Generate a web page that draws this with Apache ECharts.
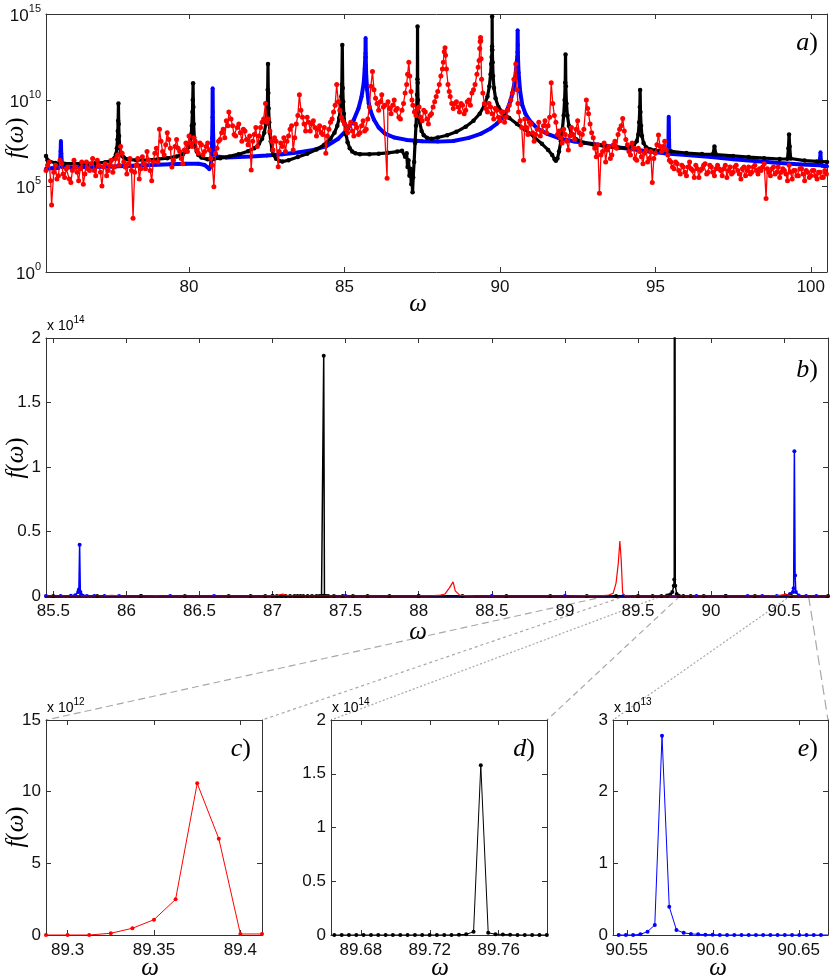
<!DOCTYPE html>
<html>
<head>
<meta charset="utf-8">
<script src="https://cdn.jsdelivr.net/npm/echarts@6/dist/echarts.min.js"></script>
<style>
html, body { margin: 0; padding: 0; background: #fff; }
#chart { width: 830px; height: 979px; }
</style>
</head>
<body>
<div id="chart"></div>
<script>
// [omega, log10 f(omega)] (panel b reuses them on a linear scale)
const blackA = [
  [75.40, 6.75], [75.45, 6.5], [75.5, 6.4], [75.7, 6.33], [76.0, 6.3], [76.5, 6.3], [77.0, 6.33], [77.3, 6.38],
  [77.5, 6.48], [77.6, 6.62], [77.65, 6.85], [77.68, 7.2], [77.70, 7.7], [77.71, 8.2], [77.72, 8.8], [77.73, 9.8],
  [77.74, 8.6], [77.75, 7.9], [77.77, 7.3], [77.8, 6.95], [77.85, 6.75], [77.9, 6.65], [78.0, 6.55], [78.3, 6.5],
  [78.7, 6.52], [79.0, 6.56], [79.3, 6.62], [79.6, 6.72], [79.8, 6.85], [79.9, 7.0], [79.98, 7.25], [80.03, 7.6],
  [80.07, 8.0], [80.09, 8.5], [80.11, 9.3], [80.12, 10.0], [80.13, 10.97], [80.14, 9.6], [80.15, 8.6], [80.17, 7.8],
  [80.2, 7.3], [80.25, 7.0], [80.3, 6.8], [80.4, 6.65], [80.6, 6.55], [80.8, 6.57], [81.0, 6.62], [81.3, 6.72],
  [81.6, 6.85], [81.9, 7.02], [82.1, 7.2], [82.25, 7.45], [82.35, 7.75], [82.42, 8.1], [82.47, 8.6], [82.50, 9.1],
  [82.52, 9.8], [82.53, 10.6], [82.54, 12.09], [82.55, 10.4], [82.56, 9.5], [82.58, 8.7], [82.6, 8.1], [82.63, 7.6],
  [82.67, 7.1], [82.72, 6.8], [82.8, 6.58], [82.9, 6.45], [83.0, 6.42], [83.2, 6.5], [83.5, 6.68], [83.8, 6.88],
  [84.1, 7.12], [84.35, 7.4], [84.55, 7.75], [84.68, 8.1], [84.77, 8.5], [84.83, 8.95], [84.87, 9.5], [84.9, 10.2],
  [84.915, 10.9], [84.93, 13.2], [84.945, 10.7], [84.96, 9.9], [84.98, 9.2], [85.01, 8.6], [85.05, 8.0], [85.1, 7.55],
  [85.17, 7.2], [85.25, 7.0], [85.35, 6.9], [85.5, 6.85], [85.8, 6.85], [86.1, 6.88], [86.4, 6.93], [86.7, 7.0],
  [86.85, 7.05], [86.95, 6.7], [87.0, 6.9], [87.03, 6.1], [87.06, 6.5], [87.09, 5.6], [87.12, 6.0], [87.15, 5.1],
  [87.17, 5.6], [87.19, 4.63], [87.21, 5.5], [87.24, 6.4], [87.27, 7.5], [87.3, 8.5], [87.32, 9.4], [87.335, 10.3],
  [87.345, 11.2], [87.35, 14.27], [87.355, 11.0], [87.365, 10.0], [87.38, 9.3], [87.42, 8.7], [87.48, 8.2], [87.55, 7.95],
  [87.65, 7.8], [87.8, 7.75], [88.0, 7.82], [88.3, 7.95], [88.6, 8.15], [88.9, 8.45], [89.15, 8.8], [89.35, 9.2],
  [89.5, 9.7], [89.6, 10.2], [89.66, 10.8], [89.7, 11.5], [89.72, 12.1], [89.735, 12.5], [89.745, 12.9], [89.748, 13.11],
  [89.75, 14.85], [89.755, 12.9], [89.765, 12.2], [89.78, 11.4], [89.81, 10.7], [89.86, 10.1], [89.95, 9.6], [90.1, 9.25],
  [90.3, 8.95], [90.55, 8.6], [90.8, 8.28], [91.1, 7.85], [91.35, 7.45], [91.55, 7.1], [91.68, 6.8], [91.76, 6.55],
  [91.8, 6.47], [91.85, 6.6], [91.9, 7.0], [91.96, 7.6], [92.01, 8.3], [92.05, 9.1], [92.08, 10.0], [92.1, 11.0],
  [92.11, 12.65], [92.12, 10.8], [92.14, 9.8], [92.17, 9.1], [92.22, 8.5], [92.3, 8.05], [92.45, 7.72], [92.7, 7.52],
  [93.0, 7.42], [93.4, 7.3], [93.8, 7.22], [94.1, 7.22], [94.3, 7.35], [94.4, 7.6], [94.45, 8.0], [94.48, 8.7],
  [94.5, 9.6], [94.51, 10.58], [94.52, 9.3], [94.54, 8.5], [94.57, 7.9], [94.62, 7.5], [94.7, 7.25], [94.85, 7.12],
  [95.0, 7.08], [95.5, 7.02], [96.0, 6.92], [96.5, 6.86], [96.85, 6.84], [96.9, 7.29], [96.95, 6.83], [97.5, 6.75],
  [98.0, 6.68], [98.5, 6.62], [99.0, 6.57], [99.25, 6.58], [99.28, 7.2], [99.3, 8.0], [99.32, 7.3], [99.35, 6.6],
  [99.8, 6.48], [100.2, 6.43], [100.52, 6.4]
];

const blueA = [
  [75.40, 6.0], [75.6, 6.03], [75.8, 6.05], [75.85, 6.3], [75.87, 7.0], [75.88, 7.62], [75.89, 6.9], [75.92, 6.1],
  [76.2, 6.07], [76.8, 6.1], [77.5, 6.13], [78.2, 6.18], [78.8, 6.22], [79.4, 6.27], [79.9, 6.3], [80.3, 6.3],
  [80.5, 6.22], [80.6, 6.08], [80.65, 5.98], [80.7, 6.1], [80.73, 6.8], [80.745, 7.8], [80.755, 9.0], [80.76, 10.68],
  [80.765, 9.3], [80.775, 8.0], [80.79, 7.3], [80.82, 6.9], [80.9, 6.72], [81.2, 6.66], [81.6, 6.68], [82.0, 6.72],
  [82.5, 6.78], [83.0, 6.85], [83.5, 6.95], [84.0, 7.1], [84.4, 7.3], [84.8, 7.75], [85.1, 8.3], [85.3, 8.85],
  [85.45, 9.5], [85.55, 10.2], [85.62, 11.0], [85.65, 11.8], [85.67, 12.5], [85.675, 12.7], [85.68, 13.6], [85.685, 12.48],
  [85.69, 12.0], [85.7, 11.4], [85.73, 10.6], [85.78, 9.8], [85.85, 9.3], [85.95, 8.85], [86.1, 8.4], [86.3, 8.05],
  [86.6, 7.82], [87.0, 7.68], [87.5, 7.6], [88.0, 7.58], [88.5, 7.62], [89.0, 7.8], [89.4, 8.05], [89.7, 8.35],
  [89.9, 8.62], [90.1, 9.0], [90.25, 9.5], [90.35, 10.0], [90.45, 10.8], [90.51, 11.6], [90.54, 12.2], [90.56, 12.5],
  [90.565, 12.78], [90.57, 14.05], [90.575, 13.2], [90.58, 12.5], [90.6, 11.6], [90.65, 10.5], [90.72, 9.7], [90.82, 9.2],
  [90.95, 8.82], [91.2, 8.35], [91.5, 8.05], [91.9, 7.78], [92.4, 7.58], [93.0, 7.44], [93.6, 7.3], [94.2, 7.15],
  [94.8, 7.0], [95.3, 6.9], [95.41, 6.9], [95.42, 7.6], [95.43, 9.03], [95.44, 7.7], [95.45, 6.88], [96.0, 6.8],
  [96.8, 6.68], [97.5, 6.56], [98.3, 6.44], [99.0, 6.34], [99.7, 6.25], [100.28, 6.2], [100.3, 6.6], [100.31, 6.96],
  [100.32, 6.5], [100.35, 6.18], [100.52, 6.15]
];

const redA = [
  [75.4, 5.9], [75.45, 6.2], [75.5, 6.4], [75.55, 5.3], [75.58, 3.9], [75.65, 5.8], [75.7, 6.2], [75.75, 5.4],
  [75.8, 5.6], [75.85, 6.5], [75.9, 6.3], [75.95, 5.7], [76.0, 5.5], [76.05, 6.0], [76.1, 6.1], [76.15, 5.4],
  [76.2, 5.2], [76.25, 5.9], [76.3, 6.5], [76.35, 6.1], [76.4, 5.8], [76.45, 5.3], [76.5, 6.0], [76.55, 6.4],
  [76.6, 5.1], [76.65, 5.7], [76.7, 6.4], [76.75, 6.0], [76.8, 5.9], [76.85, 6.3], [76.9, 6.6], [76.95, 5.9],
  [77.0, 5.6], [77.05, 6.5], [77.1, 6.2], [77.15, 5.8], [77.2, 5.0], [77.25, 6.1], [77.3, 6.3], [77.35, 5.6],
  [77.4, 5.9], [77.45, 6.2], [77.5, 6.5], [77.55, 5.8], [77.6, 6.1], [77.65, 6.6], [77.7, 6.8], [77.75, 6.2],
  [77.8, 7.3], [77.85, 6.9], [77.9, 6.4], [77.95, 6.1], [78.0, 5.7], [78.05, 6.3], [78.1, 6.6], [78.15, 5.9],
  [78.2, 3.12], [78.25, 5.8], [78.3, 6.2], [78.35, 6.6], [78.4, 5.4], [78.45, 6.0], [78.5, 6.7], [78.55, 6.3],
  [78.6, 6.0], [78.65, 7.0], [78.7, 6.5], [78.75, 5.9], [78.8, 5.3], [78.85, 6.4], [78.9, 6.9], [78.95, 7.2],
  [79.0, 6.4], [79.05, 8.3], [79.1, 7.6], [79.15, 7.0], [79.2, 6.8], [79.25, 7.4], [79.3, 8.1], [79.35, 7.7],
  [79.4, 7.2], [79.45, 6.1], [79.5, 6.5], [79.55, 7.3], [79.6, 7.7], [79.65, 7.2], [79.7, 7.0], [79.75, 6.6],
  [79.8, 6.3], [79.85, 7.1], [79.9, 7.5], [79.95, 7.0], [80.0, 7.9], [80.05, 7.5], [80.1, 7.3], [80.15, 7.8],
  [80.2, 7.6], [80.25, 7.1], [80.3, 6.9], [80.35, 7.5], [80.4, 7.4], [80.45, 6.8], [80.5, 7.0], [80.55, 7.3],
  [80.6, 7.5], [80.65, 7.1], [80.7, 6.6], [80.75, 6.2], [80.8, 4.96], [80.85, 6.9], [80.9, 7.2], [80.95, 7.6],
  [81.0, 7.7], [81.05, 8.1], [81.1, 8.3], [81.15, 7.8], [81.2, 8.8], [81.25, 8.5], [81.28, 9.3], [81.35, 8.9],
  [81.4, 8.5], [81.45, 8.0], [81.5, 7.9], [81.55, 8.4], [81.6, 8.6], [81.65, 8.1], [81.7, 7.6], [81.75, 8.3],
  [81.8, 8.2], [81.85, 7.7], [81.9, 7.4], [81.95, 7.9], [82.0, 5.93], [82.05, 7.6], [82.1, 8.0], [82.15, 8.4],
  [82.2, 7.3], [82.25, 7.9], [82.3, 8.4], [82.35, 8.7], [82.4, 8.9], [82.46, 9.8], [82.5, 8.7], [82.55, 8.9],
  [82.6, 8.2], [82.65, 7.6], [82.7, 7.1], [82.75, 7.8], [82.8, 7.6], [82.87, 6.12], [82.9, 7.0], [82.95, 7.5],
  [83.0, 7.3], [83.05, 7.8], [83.1, 7.0], [83.15, 7.6], [83.2, 7.9], [83.25, 8.3], [83.3, 8.5], [83.35, 7.1],
  [83.4, 7.8], [83.45, 8.6], [83.5, 9.1], [83.55, 10.3], [83.6, 9.4], [83.65, 9.0], [83.7, 8.6], [83.75, 8.2],
  [83.8, 9.0], [83.85, 8.7], [83.9, 8.2], [83.95, 8.6], [84.0, 8.8], [84.05, 8.4], [84.1, 7.9], [84.15, 8.3],
  [84.2, 8.5], [84.25, 8.1], [84.3, 8.0], [84.35, 8.4], [84.4, 6.9], [84.45, 7.9], [84.5, 8.3], [84.55, 8.7],
  [84.6, 8.9], [84.65, 9.3], [84.7, 9.7], [84.75, 10.9], [84.8, 9.9], [84.85, 9.4], [84.9, 9.0], [84.95, 8.8],
  [85.0, 8.6], [85.05, 8.3], [85.1, 8.1], [85.15, 8.5], [85.2, 8.7], [85.25, 8.2], [85.3, 7.9], [85.35, 8.6],
  [85.4, 8.4], [85.45, 8.0], [85.5, 8.1], [85.55, 8.5], [85.6, 8.8], [85.65, 8.2], [85.7, 8.3], [85.75, 8.9],
  [85.8, 9.6], [85.85, 10.8], [85.9, 11.65], [85.95, 10.6], [86.0, 10.1], [86.05, 9.8], [86.1, 9.4], [86.15, 9.9],
  [86.2, 10.3], [86.25, 9.6], [86.3, 9.7], [86.37, 5.45], [86.4, 9.9], [86.45, 9.5], [86.5, 9.2], [86.55, 9.7],
  [86.6, 10.0], [86.65, 9.4], [86.7, 9.5], [86.75, 9.0], [86.8, 8.9], [86.85, 9.4], [86.9, 9.8], [86.95, 10.4],
  [87.0, 10.9], [87.03, 11.5], [87.07, 12.2], [87.1, 11.4], [87.14, 10.5], [87.17, 10.0], [87.2, 9.7], [87.25, 9.3],
  [87.3, 9.1], [87.35, 9.5], [87.4, 9.6], [87.45, 9.0], [87.5, 8.8], [87.55, 9.4], [87.6, 9.3], [87.65, 8.9],
  [87.7, 8.6], [87.75, 9.1], [87.8, 9.2], [87.85, 9.6], [87.9, 9.9], [87.95, 10.2], [88.0, 10.5], [88.05, 10.9],
  [88.1, 11.4], [88.15, 11.8], [88.18, 12.2], [88.21, 12.8], [88.235, 13.04], [88.25, 12.6], [88.28, 11.8], [88.33, 10.9],
  [88.37, 10.5], [88.4, 10.2], [88.45, 9.8], [88.5, 9.5], [88.55, 9.8], [88.6, 9.9], [88.65, 9.6], [88.7, 9.3],
  [88.75, 9.8], [88.8, 9.7], [88.85, 9.2], [88.9, 9.4], [88.95, 9.9], [89.0, 10.0], [89.05, 9.7], [89.1, 10.4],
  [89.15, 10.6], [89.2, 10.9], [89.26, 11.5], [89.3, 11.9], [89.33, 12.3], [89.35, 13.0], [89.365, 13.4], [89.376, 13.63],
  [89.385, 13.45], [89.395, 12.4], [89.41, 11.2], [89.45, 10.4], [89.5, 9.8], [89.55, 9.5], [89.6, 9.3], [89.65, 9.8],
  [89.7, 9.6], [89.75, 9.2], [89.8, 8.9], [89.85, 9.5], [89.9, 9.4], [89.95, 9.0], [90.0, 8.8], [90.05, 9.3],
  [90.1, 9.3], [90.15, 8.7], [90.2, 9.0], [90.25, 9.4], [90.3, 9.7], [90.35, 10.0], [90.4, 10.4], [90.45, 11.2],
  [90.51, 12.1], [90.55, 10.6], [90.58, 9.8], [90.6, 9.3], [90.65, 8.8], [90.7, 8.4], [90.76, 6.5], [90.8, 8.9],
  [90.85, 8.4], [90.9, 8.0], [90.95, 8.7], [91.0, 8.6], [91.05, 8.1], [91.1, 7.6], [91.15, 8.0], [91.2, 8.3],
  [91.25, 8.7], [91.3, 7.9], [91.35, 8.2], [91.4, 8.5], [91.45, 8.8], [91.5, 8.1], [91.55, 8.5], [91.6, 9.0],
  [91.65, 11.0], [91.7, 9.8], [91.75, 9.1], [91.8, 8.7], [91.85, 8.0], [91.9, 8.2], [91.95, 7.8], [92.0, 7.5],
  [92.05, 8.3], [92.1, 8.0], [92.15, 7.6], [92.2, 7.1], [92.25, 7.9], [92.3, 8.4], [92.35, 8.0], [92.4, 7.7],
  [92.45, 8.3], [92.5, 8.8], [92.55, 8.1], [92.6, 7.4], [92.65, 8.0], [92.7, 8.3], [92.78, 10.0], [92.82, 9.5],
  [92.85, 9.2], [92.9, 8.6], [92.95, 8.1], [93.0, 7.8], [93.05, 7.2], [93.1, 6.7], [93.15, 7.4], [93.2, 4.58],
  [93.25, 6.8], [93.3, 7.0], [93.35, 7.5], [93.4, 6.4], [93.45, 7.1], [93.5, 7.3], [93.55, 6.6], [93.6, 6.8],
  [93.65, 7.4], [93.7, 7.6], [93.75, 7.2], [93.8, 8.0], [93.85, 8.3], [93.9, 8.5], [93.95, 8.93], [94.0, 8.2],
  [94.05, 7.7], [94.1, 7.4], [94.15, 7.0], [94.2, 6.8], [94.25, 7.5], [94.3, 7.2], [94.35, 6.6], [94.4, 6.5],
  [94.45, 7.2], [94.5, 7.0], [94.55, 6.7], [94.6, 6.3], [94.65, 6.9], [94.7, 7.1], [94.75, 6.4], [94.8, 6.6],
  [94.85, 7.0], [94.9, 5.2], [94.95, 6.6], [95.0, 6.9], [95.05, 7.4], [95.1, 7.97], [95.15, 7.3], [95.2, 7.0],
  [95.25, 7.3], [95.3, 7.6], [95.35, 7.1], [95.4, 6.8], [95.45, 6.5], [95.5, 6.4], [95.55, 6.1], [95.6, 6.0],
  [95.65, 6.4], [95.7, 6.3], [95.75, 5.9], [95.8, 5.7], [95.85, 6.2], [95.9, 6.1], [95.95, 5.8], [96.0, 5.6],
  [96.05, 6.1], [96.1, 6.4], [96.15, 6.0], [96.2, 5.9], [96.25, 5.5], [96.3, 6.2], [96.35, 6.0], [96.4, 5.5],
  [96.45, 5.9], [96.5, 6.0], [96.55, 6.2], [96.6, 6.3], [96.65, 5.7], [96.7, 5.8], [96.75, 6.2], [96.8, 6.1],
  [96.85, 5.8], [96.9, 5.6], [96.95, 6.0], [97.0, 6.2], [97.05, 6.0], [97.1, 5.9], [97.15, 5.6], [97.2, 6.0],
  [97.25, 6.2], [97.3, 5.5], [97.35, 5.9], [97.4, 6.1], [97.45, 5.7], [97.5, 5.8], [97.55, 6.1], [97.6, 6.2],
  [97.65, 5.9], [97.7, 5.7], [97.75, 5.4], [97.8, 6.0], [97.85, 6.1], [97.9, 5.6], [97.95, 5.9], [98.0, 6.1],
  [98.05, 5.7], [98.1, 5.8], [98.15, 6.1], [98.2, 6.2], [98.25, 5.9], [98.3, 5.7], [98.35, 6.0], [98.4, 5.9],
  [98.45, 6.1], [98.5, 6.3], [98.56, 4.28], [98.6, 6.0], [98.65, 5.8], [98.7, 5.6], [98.75, 6.0], [98.8, 6.1],
  [98.85, 5.7], [98.9, 5.8], [98.95, 6.1], [99.0, 5.5], [99.05, 5.8], [99.1, 6.0], [99.15, 5.9], [99.2, 5.7],
  [99.25, 5.3], [99.3, 6.2], [99.35, 5.8], [99.4, 5.4], [99.45, 5.9], [99.5, 5.9], [99.55, 5.6], [99.6, 5.6],
  [99.65, 6.0], [99.7, 6.0], [99.75, 5.7], [99.8, 5.3], [99.85, 5.9], [99.9, 5.8], [99.95, 5.5], [100.0, 5.6],
  [100.05, 5.9], [100.1, 5.9], [100.15, 5.6], [100.2, 5.4], [100.25, 5.8], [100.3, 5.8], [100.35, 5.5], [100.4, 5.5],
  [100.45, 5.9], [100.5, 5.7]
];

// fine scans: c) red, x 1e12
const cOmega = [89.2875, 89.3, 89.3125, 89.325, 89.3375, 89.35, 89.3625, 89.375, 89.3875, 89.4, 89.4125];
const cVal = [0, 0, 0, 0.12, 0.47, 1.07, 2.49, 10.58, 6.72, 0.07, 0.07];
// d) black, x 1e14
const dOmega = [89.6646, 89.6689, 89.6731, 89.6774, 89.6816, 89.6859, 89.6901, 89.6944, 89.6986, 89.7029,
  89.7071, 89.7114, 89.7156, 89.7199, 89.7241, 89.7284, 89.7326, 89.7369, 89.7411, 89.7454,
  89.7496, 89.7539, 89.7581, 89.7624, 89.7666, 89.7709, 89.7751, 89.7794, 89.7836, 89.7879];
const dVal = [0, 0, 0, 0, 0, 0, 0, 0, 0, 0, 0, 0, 0, 0, 0, 0, 0, 0.003, 0.006, 0.03,
  1.58, 0.02, 0.008, 0.005, 0.003, 0, 0, 0, 0, 0];
// e) blue, x 1e13
const eOmega = [90.5453, 90.5495, 90.5537, 90.5579, 90.5621, 90.5663, 90.5705, 90.5747, 90.5789, 90.5831,
  90.5873, 90.5915, 90.5957, 90.5999, 90.6041, 90.6083, 90.6125, 90.6167, 90.6209, 90.6251,
  90.6293, 90.6335, 90.6377, 90.6419, 90.6461, 90.6503, 90.6545, 90.6587, 90.6629, 90.6671];
const eVal = [0, 0, 0, 0.01, 0.047, 0.14, 2.78, 0.395, 0.07, 0.03, 0.015, 0.01, 0.005, 0.005, 0,
  0, 0, 0, 0, 0, 0, 0, 0, 0, 0, 0, 0, 0, 0, 0];

const aTicks = [80, 85, 90, 95, 100];
const bTicks = [85.5, 86, 86.5, 87, 87.5, 88, 88.5, 89, 89.5, 90, 90.5];
const cTicks = [89.3, 89.35, 89.4];
const dTicks = [89.68, 89.72, 89.76];
const eTicks = [90.55, 90.6, 90.65];

const aRange = [75.4, 100.52], bRange = [85.45, 90.8];
const cRange = [89.2875, 89.4125], dRange = [89.6627, 89.788], eRange = [90.542, 90.667];

const SANS = '"Liberation Sans", Arial, sans-serif';
const SERIF = '"Liberation Serif", "DejaVu Serif", serif';
const AX = '#333';

const grids = [
  { left: 46, top: 14, width: 781, height: 258 },
  { left: 46, top: 338, width: 782, height: 258 },
  { left: 46, top: 720, width: 216, height: 215 },
  { left: 331, top: 720, width: 216, height: 215 },
  { left: 613, top: 720, width: 215, height: 215 }
];

const numFmt = v => String(+(+v).toFixed(4));

function xAxes(g, range, ticks, bottomLine) {
  const base = {
    gridIndex: g, type: 'value', min: range[0], max: range[1],
    axisLine: { show: true, onZero: false, lineStyle: { color: AX, width: 1 } },
    axisTick: { show: true, inside: true, length: 5, customValues: ticks, lineStyle: { color: AX } },
    splitLine: { show: false }
  };
  return [
    Object.assign({}, base, {
      position: 'bottom',
      axisLine: { show: true, onZero: false, lineStyle: bottomLine || { color: AX, width: 1 } },
      axisLabel: { customValues: ticks, margin: 7, color: '#111', fontFamily: SANS, fontSize: 17, formatter: numFmt }
    }),
    Object.assign({}, base, { position: 'top', axisLabel: { show: false } })
  ];
}

function yAxes(g, min, max, step, fmt, rich) {
  const base = {
    gridIndex: g, type: 'value', min: min, max: max, interval: step,
    axisLine: { show: true, onZero: false, lineStyle: { color: AX, width: 1 } },
    axisTick: { show: true, inside: true, length: 5, lineStyle: { color: AX } },
    splitLine: { show: false }
  };
  return [
    Object.assign({}, base, {
      position: 'left',
      axisLabel: { margin: 5, color: '#111', fontFamily: SANS, fontSize: 17, formatter: fmt, rich: rich }
    }),
    Object.assign({}, base, { position: 'right', axisLabel: { show: false } })
  ];
}

const powRich = {
  b: { fontFamily: SANS, fontSize: 17, color: '#111', lineHeight: 22, verticalAlign: 'bottom' },
  s: { fontFamily: SANS, fontSize: 11, color: '#111', lineHeight: 11, verticalAlign: 'top' }
};

const toLin = (arr, p) => arr.map(d => [d[0], Math.pow(10, d[1] - p)]);
const zip = (xs, ys) => xs.map((x, i) => [x, ys[i]]);

function line(axis, data, color, width, size, z) {
  return {
    type: 'line', xAxisIndex: axis, yAxisIndex: axis, data: data,
    symbol: size > 0 ? 'circle' : 'none', symbolSize: size, showSymbol: size > 0,
    lineStyle: { color: color, width: width }, itemStyle: { color: color },
    z: z, silent: true
  };
}

const option = {
  animation: false,
  backgroundColor: '#fff',
  grid: grids,
  xAxis: [].concat(
    xAxes(0, aRange, aTicks),
    xAxes(1, bRange, bTicks, { color: '#5a0c0c', width: 3 }),
    xAxes(2, cRange, cTicks), xAxes(3, dRange, dTicks), xAxes(4, eRange, eTicks)
  ),
  yAxis: [].concat(
    yAxes(0, 0, 15, 5, v => '{b|10}{s|' + v + '}', powRich),
    yAxes(1, 0, 2, 0.5, numFmt),
    yAxes(2, 0, 15, 5, numFmt),
    yAxes(3, 0, 2, 0.5, numFmt),
    yAxes(4, 0, 3, 1, numFmt)
  ),
  series: [
    line(0, blueA, '#0000ff', 4, 4, 2),
    line(0, blackA, '#000000', 3.2, 4.5, 3),
    line(0, redA, '#ff0000', 1.3, 5, 4),
    line(2, toLin(blueA, 14), '#0000ff', 1.5, 4, 2),
    line(2, toLin(blackA, 14), '#000000', 1.5, 4, 3),
    line(2, toLin(redA, 14), '#ff0000', 1.2, 0, 4),
    line(4, zip(cOmega, cVal), '#ff0000', 1, 4, 3),
    line(6, zip(dOmega, dVal), '#000000', 1, 4, 3),
    line(8, zip(eOmega, eVal), '#0000ff', 1, 4, 3)
  ]
};

const chart = echarts.init(document.getElementById('chart'), null, { renderer: 'canvas' });
chart.setOption(option);

// axis titles, multipliers and panel letters
const mathRich = {
  i: { fontFamily: SERIF, fontStyle: 'italic', fontSize: 25, color: '#111' },
  n: { fontFamily: SERIF, fontSize: 25, color: '#111' }
};
const letterRich = {
  i: { fontFamily: SERIF, fontStyle: 'italic', fontSize: 26, color: '#111' },
  n: { fontFamily: SERIF, fontSize: 26, color: '#111' }
};
const multRich = {
  n: { fontFamily: SANS, fontSize: 14, color: '#111', lineHeight: 18, verticalAlign: 'bottom' },
  s: { fontFamily: SANS, fontSize: 10, color: '#111', lineHeight: 10, verticalAlign: 'top' }
};

function txt(x, y, text, rich, align, rot) {
  return {
    type: 'text', x: x, y: y, rotation: rot || 0, silent: true,
    style: { text: text, rich: rich, align: align, verticalAlign: 'middle' }
  };
}

const omegaLabels = [[418, 304], [418, 632], [150, 968], [440, 968], [718, 968]];
const fLabels = [[16, 138], [16, 458], [16, 827]];
const letters = [['a', 818, 43], ['b', 818, 370], ['c', 251, 749], ['d', 535, 749], ['e', 818, 749]];
const mults = [['14', 47, 324], ['12', 47, 706], ['14', 332, 706], ['13', 614, 706]];

const graphics = [];
omegaLabels.forEach(p => graphics.push(txt(p[0], p[1], '{i|ω}', mathRich, 'center')));
fLabels.forEach(p => graphics.push(txt(p[0], p[1], '{i|f}{n|(}{i|ω}{n|)}', mathRich, 'center', Math.PI / 2)));
letters.forEach(p => graphics.push(txt(p[1], p[2], '{i|' + p[0] + '}{n|)}', letterRich, 'right')));
mults.forEach(p => graphics.push(txt(p[1], p[2], '{n|x 10}{s|' + p[0] + '}', multRich, 'left')));

// zoom connectors from panel b to the top corners of c, d, e
const px = (axis, pt) => chart.convertToPixel({ xAxisIndex: axis, yAxisIndex: axis }, pt);
const zooms = [
  { axis: 4, range: cRange, top: 15, dash: [[7, 4], [3, 3]] },
  { axis: 6, range: dRange, top: 2, dash: [[2, 2], [6, 4]] },
  { axis: 8, range: eRange, top: 3, dash: [[2, 2], [10, 5]] }
];
zooms.forEach(z => {
  z.range.forEach((w, k) => {
    const a = px(2, [w, 0]);
    const b = px(z.axis, [w, z.top]);
    graphics.push({
      type: 'line', silent: true, z: -1,
      shape: { x1: a[0], y1: a[1], x2: b[0], y2: b[1] },
      style: { stroke: '#a8a8a8', lineWidth: 1.2, lineDash: z.dash[k] }
    });
  });
});

chart.setOption({ graphic: graphics });
</script>
</body>
</html>
